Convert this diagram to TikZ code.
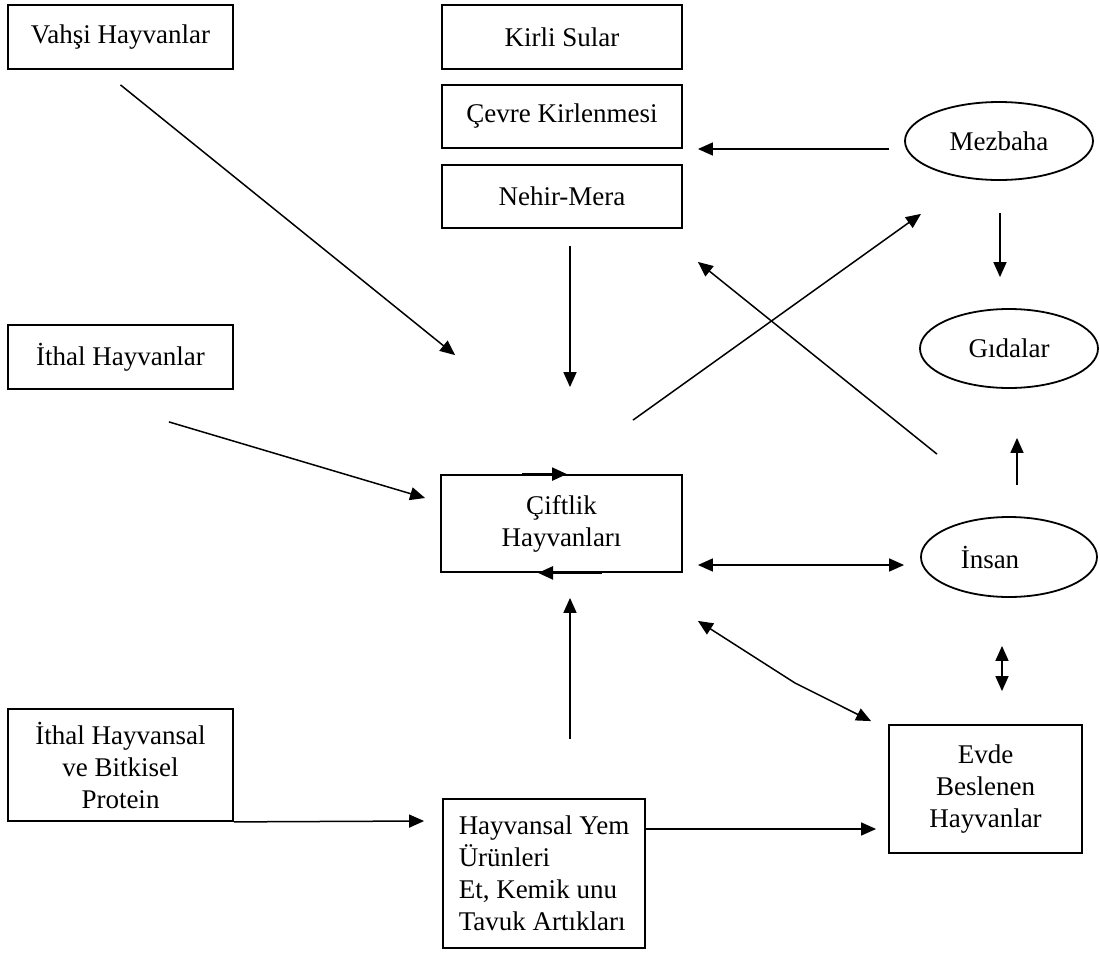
\documentclass[tikz,border=0pt]{standalone}
\usepackage{fontspec}
\setmainfont{Liberation Serif}
\usetikzlibrary{shapes.geometric,arrows.meta,calc}

\tikzset{
  kutu/.style={draw, rectangle, line width=0.9pt, inner sep=0pt, align=center},
  oval/.style={draw, ellipse, line width=0.9pt, inner sep=0pt},
  ok/.style={line width=0.75pt, -{Triangle[length=7.5pt,width=6.5pt]}},
  cift/.style={line width=0.75pt, {Triangle[length=7.5pt,width=6.5pt]}-{Triangle[length=7.5pt,width=6.5pt]}}
}

\begin{document}
\begin{tikzpicture}[x=0.5pt, y=-0.5pt, font=\fontsize{13.5}{16}\selectfont]
	\useasboundingbox (0,0) rectangle (1100,954);
	% kutular
	\node[kutu, minimum width=112.5pt, minimum height=32pt] (vahsi) at (120.5,37) {Vahşi Hayvanlar};
	\node[kutu, minimum width=112.5pt, minimum height=32pt] (ithal) at (120.5,357) {İthal Hayvanlar};
	\node[kutu, minimum width=112.5pt, minimum height=56pt] (ithalprot) at (120.5,765) {İthal Hayvansal\\ve Bitkisel\\Protein};
	\node[kutu, minimum width=120pt, minimum height=32pt] (kirli) at (562,37) {Kirli Sular};
	\node[kutu, minimum width=120pt, minimum height=31.5pt] (cevre) at (562,116.5) {Çevre Kirlenmesi};
	\node[kutu, minimum width=120pt, minimum height=31.5pt] (nehir) at (562,196.5) {Nehir-Mera};
	\node[kutu, minimum width=120.5pt, minimum height=48.5pt] (ciftlik) at (561.5,523.5) {Çiftlik\\Hayvanları};
	\node[kutu, align=left, minimum width=101pt, minimum height=74.5pt] (yem) at (544,873.5) {Hayvansal Yem\\Ürünleri\\Et, Kemik unu\\Tavuk Artıkları};
	\node[kutu, minimum width=96.5pt, minimum height=64pt] (evde) at (985.5,789) {Evde\\Beslenen\\Hayvanlar};
	% elipsler
	\node[oval, minimum width=94pt, minimum height=39pt] (mezbaha) at (999,141) {Mezbaha};
	\node[oval, minimum width=89pt, minimum height=39.5pt] (gidalar) at (1009,348.5) {Gıdalar};
	\node[oval, minimum width=88pt, minimum height=40pt] (insan) at (1009,557) {İnsan\hspace*{19pt}};

	% oklar
	\draw[ok] ($(vahsi.south)+(0,15)$) -- ($(ciftlik.north west)+(15,-119)$);
	\draw[ok] ($(ithal.south east)+(-65,32)$) -- ($(ciftlik.west)+(-15,-25.5)$);
	\draw[ok] ($(nehir.south)+(8,17)$) -- ($(ciftlik.north)+(8.5,-87)$);
	\draw[ok] ($(mezbaha.west)+(-15,8)$) -- ($(cevre.east)+(15,32.5)$);
	\draw[ok] ($(ciftlik.north)+(71.5,-54)$) -- ($(mezbaha.south)+(-78,33)$);
	\draw[ok] ($(insan.north)+(-72,-62)$) -- ($(nehir.south east)+(15,33)$);
	\draw[ok] ($(mezbaha.south)+(1,32)$) -- ($(gidalar.north)+(-9,-31)$);
	\draw[ok] ($(insan.north)+(8,-31)$) -- ($(gidalar.south)+(8,49)$);
	\draw[cift] ($(ciftlik.east)+(15,41.5)$) -- ($(insan.west)+(-16,8)$);
	\draw[cift] ($(insan.south)+(-7,48)$) -- ($(evde.north)+(16.5,-33)$);
	\draw[cift] ($(ciftlik.south east)+(15,48)$) -- (795,683) -- ($(evde.north west)+(-17,-3)$);
	\draw[ok] ($(yem.north)+(26,-59)$) -- ($(ciftlik.south)+(8.5,25)$);
	\draw[ok] ($(yem.east)+(0,-44.5)$) -- ($(evde.west)+(-12,40)$);
	\draw[ok] (ithalprot.south east) -- ($(yem.west)+(-18,-52.5)$);
	% kutu kenarindaki oklar
	\draw[ok, line width=1.2pt] ($(ciftlik.north)+(-39.5,0)$) -- ($(ciftlik.north)+(5.5,0)$);
	\draw[ok, line width=1.2pt] ($(ciftlik.south)+(40.5,0)$) -- ($(ciftlik.south)+(-23.5,0)$);
\end{tikzpicture}
\end{document}
